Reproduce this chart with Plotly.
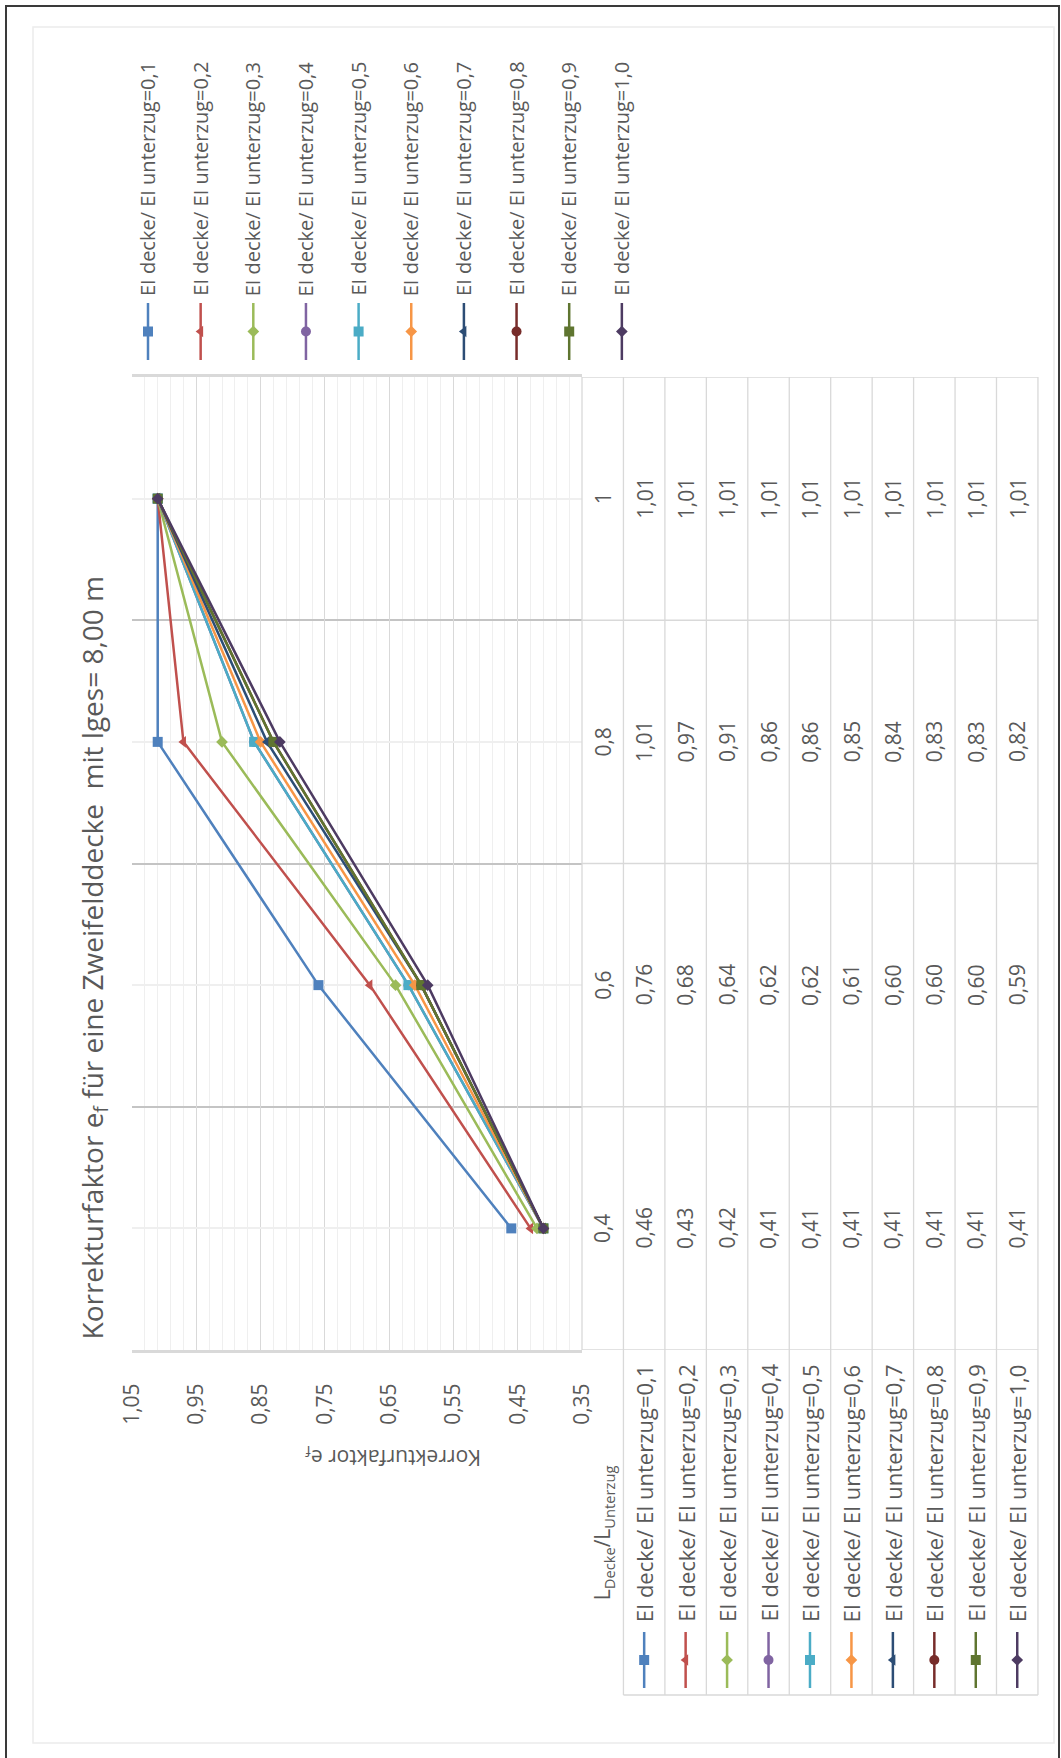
import plotly.graph_objects as go

W, H = 1061, 1758

# ---- data ----------------------------------------------------------------
categories = [0.4, 0.6, 0.8, 1.0]
category_labels = ["0,4", "0,6", "0,8", "1"]

series_names = [
    "EI decke/ EI unterzug=0,1",
    "EI decke/ EI unterzug=0,2",
    "EI decke/ EI unterzug=0,3",
    "EI decke/ EI unterzug=0,4",
    "EI decke/ EI unterzug=0,5",
    "EI decke/ EI unterzug=0,6",
    "EI decke/ EI unterzug=0,7",
    "EI decke/ EI unterzug=0,8",
    "EI decke/ EI unterzug=0,9",
    "EI decke/ EI unterzug=1,0",
]

ratio_01 = [0.46, 0.76, 1.01, 1.01]
ratio_02 = [0.43, 0.68, 0.97, 1.01]
ratio_03 = [0.42, 0.64, 0.91, 1.01]
ratio_04 = [0.41, 0.62, 0.86, 1.01]
ratio_05 = [0.41, 0.62, 0.86, 1.01]
ratio_06 = [0.41, 0.61, 0.85, 1.01]
ratio_07 = [0.41, 0.60, 0.84, 1.01]
ratio_08 = [0.41, 0.60, 0.83, 1.01]
ratio_09 = [0.41, 0.60, 0.83, 1.01]
ratio_10 = [0.41, 0.59, 0.82, 1.01]
series_values = [ratio_01, ratio_02, ratio_03, ratio_04, ratio_05,
                 ratio_06, ratio_07, ratio_08, ratio_09, ratio_10]

value_ticks = [0.35, 0.45, 0.55, 0.65, 0.75, 0.85, 0.95, 1.05]
value_tick_labels = ["0,35", "0,45", "0,55", "0,65", "0,75", "0,85", "0,95", "1,05"]

# ---- styling -------------------------------------------------------------
colors = ["#4F81BD", "#C0504D", "#9BBB59", "#8064A2", "#4BACC6",
          "#F79646", "#2C4D75", "#772C2A", "#5F7530", "#4D3B62"]
symbols = ["square", "triangle-left", "diamond", "circle", "square",
           "diamond", "triangle-left", "circle", "square", "diamond"]
sizes = [10, 10, 9, 10, 10, 9, 10, 10, 10, 9]

FONT = "Open Sans"
TXT = "#595959"
GRID = "#d9d9d9"
GRID_LIGHT = "#efefef"


def X(px):
    return px / W


def Y(py):
    return 1 - py / H


# plot area (pixels)
PL, PR, PT, PB = 132, 582, 377, 1350
# data table geometry (pixels)
T_LEFT, COL_W = 582, 41.45
T_RIGHT = T_LEFT + 11 * COL_W
HDR_BOTTOM = 1695


def col_center(i):
    # i = -1 -> category column, 0..9 -> series columns
    return T_LEFT + COL_W * (i + 1.5)


fig = go.Figure()

for name, vals, c, s, sz in zip(series_names, series_values, colors, symbols, sizes):
    fig.add_trace(go.Scatter(
        x=vals, y=categories, mode="lines+markers", name=name,
        line=dict(color=c, width=2.5),
        marker=dict(symbol=s, size=sz, color=c, line=dict(width=0)),
        showlegend=False, xaxis="x", yaxis="y",
    ))

# legend and table keys drawn on a full-page pixel axis
LEG_X0, LEG_DX = 148, 52.65
for i, (c, s, sz) in enumerate(zip(colors, symbols, sizes)):
    for xc, y0, y1 in ((LEG_X0 + i * LEG_DX, 303, 360), (col_center(i), 1632, 1688)):
        fig.add_trace(go.Scatter(
            x=[xc, xc], y=[y0, y1], mode="lines",
            line=dict(color=c, width=2.5), hoverinfo="skip",
            showlegend=False, xaxis="x2", yaxis="y2"))
        fig.add_trace(go.Scatter(
            x=[xc], y=[(y0 + y1) / 2], mode="markers",
            marker=dict(symbol=s, size=sz, color=c), hoverinfo="skip",
            showlegend=False, xaxis="x2", yaxis="y2"))

annotations = []
shapes = []

# title
annotations.append(dict(
    text="Korrekturfaktor e<sub>f</sub> für eine Zweifelddecke  mit lges= 8,00 m",
    xref="paper", yref="paper", x=X(93), y=Y(1342), xanchor="center", yanchor="bottom",
    textangle=-90, showarrow=False, font=dict(family=FONT, size=28, color=TXT)))

# value axis title
annotations.append(dict(
    text="Korrekturfaktor e<sub>f</sub>", xref="paper", yref="paper",
    x=X(393), y=Y(1457), xanchor="center", yanchor="middle", textangle=180,
    showarrow=False, font=dict(family=FONT, size=21, color=TXT)))

# legend labels
for i, name in enumerate(series_names):
    annotations.append(dict(
        text=name, xref="paper", yref="paper", x=X(LEG_X0 + i * LEG_DX), y=Y(298),
        xanchor="center", yanchor="bottom", textangle=-90, showarrow=False,
        font=dict(family=FONT, size=20, color=TXT)))

# data table: category column
for cat, lab in zip(categories, category_labels):
    annotations.append(dict(
        text=lab, xref="paper", yref="y", x=X(col_center(-1)), y=cat,
        xanchor="center", yanchor="middle", textangle=-90, showarrow=False,
        font=dict(family=FONT, size=21, color=TXT)))
# data table: values
for i, vals in enumerate(series_values):
    for cat, v in zip(categories, vals):
        annotations.append(dict(
            text=f"{v:.2f}".replace(".", ","), xref="paper", yref="y",
            x=X(col_center(i)), y=cat, xanchor="center", yanchor="middle",
            textangle=-90, showarrow=False, font=dict(family=FONT, size=21, color=TXT)))
# data table: header row
for i, name in enumerate(series_names):
    annotations.append(dict(
        text=name, xref="paper", yref="paper", x=X(col_center(i)), y=Y(1624),
        xanchor="center", yanchor="bottom", textangle=-90, showarrow=False,
        font=dict(family=FONT, size=22, color=TXT)))
annotations.append(dict(
    text="L<sub>Decke</sub>/L<sub>Unterzug</sub>", xref="paper", yref="paper",
    x=X(col_center(-1)), y=Y(1602), xanchor="center", yanchor="bottom",
    textangle=-90, showarrow=False, font=dict(family=FONT, size=21, color=TXT)))

# table borders
row_edges = [0.3, 0.5, 0.7, 0.9, 1.1]
for r in row_edges:
    shapes.append(dict(type="line", xref="paper", yref="y", x0=X(T_LEFT), x1=X(T_RIGHT),
                       y0=r, y1=r, line=dict(color=GRID, width=1.3)))
shapes.append(dict(type="line", xref="paper", yref="paper", x0=X(T_LEFT + COL_W),
                   x1=X(T_RIGHT), y0=Y(HDR_BOTTOM), y1=Y(HDR_BOTTOM),
                   line=dict(color=GRID, width=1.3)))
for k in range(12):
    xk = T_LEFT + k * COL_W
    y_end = PB if k == 0 else HDR_BOTTOM
    shapes.append(dict(type="line", xref="paper", yref="paper", x0=X(xk), x1=X(xk),
                       y0=Y(PT), y1=Y(y_end), line=dict(color=GRID, width=1.3)))

# chart frame
shapes.append(dict(type="rect", xref="paper", yref="paper", x0=X(33), x1=X(1054),
                   y0=Y(1743), y1=Y(27), line=dict(color="#ececec", width=1.5)))
shapes.append(dict(type="rect", xref="paper", yref="paper", x0=X(6), x1=X(1059),
                   y0=Y(1770), y1=Y(6), line=dict(color="#3a3a3a", width=2)))

fig.update_layout(
    template="none",
    width=W, height=H, autosize=False,
    margin=dict(l=0, r=0, t=0, b=0, pad=0, autoexpand=False),
    paper_bgcolor="white", plot_bgcolor="rgba(0,0,0,0)",
    showlegend=False,
    xaxis=dict(
        domain=[X(PL), X(PR)], range=[1.05, 0.35], anchor="y", automargin=False,
        tickmode="array", tickvals=value_ticks, ticktext=value_tick_labels,
        tickangle=-90, ticks="", ticklabelstandoff=22,
        tickfont=dict(family=FONT, size=21, color=TXT),
        showgrid=True, gridcolor=GRID, gridwidth=1.3,
        minor=dict(tickmode="linear", tick0=0.35, dtick=0.02, showgrid=True,
                   gridcolor=GRID_LIGHT, gridwidth=1.3),
        showline=True, linecolor=GRID, linewidth=3, mirror=True, zeroline=False,
    ),
    yaxis=dict(
        domain=[Y(PB), Y(PT)], range=[0.3, 1.1], anchor="x", automargin=False,
        tickmode="array", tickvals=categories, showticklabels=False, ticks="",
        showgrid=True, gridcolor=GRID_LIGHT, gridwidth=2,
        minor=dict(tickmode="array", tickvals=[0.5, 0.7, 0.9], showgrid=True,
                   gridcolor="#c4c4c4", gridwidth=2),
        showline=False, zeroline=False,
    ),
    xaxis2=dict(domain=[0, 1], range=[0, W], anchor="y2", visible=False,
                fixedrange=True, automargin=False),
    yaxis2=dict(domain=[0, 1], range=[H, 0], anchor="x2", visible=False,
                fixedrange=True, automargin=False),
    annotations=annotations, shapes=shapes,
)

fig.write_html("out.html")
